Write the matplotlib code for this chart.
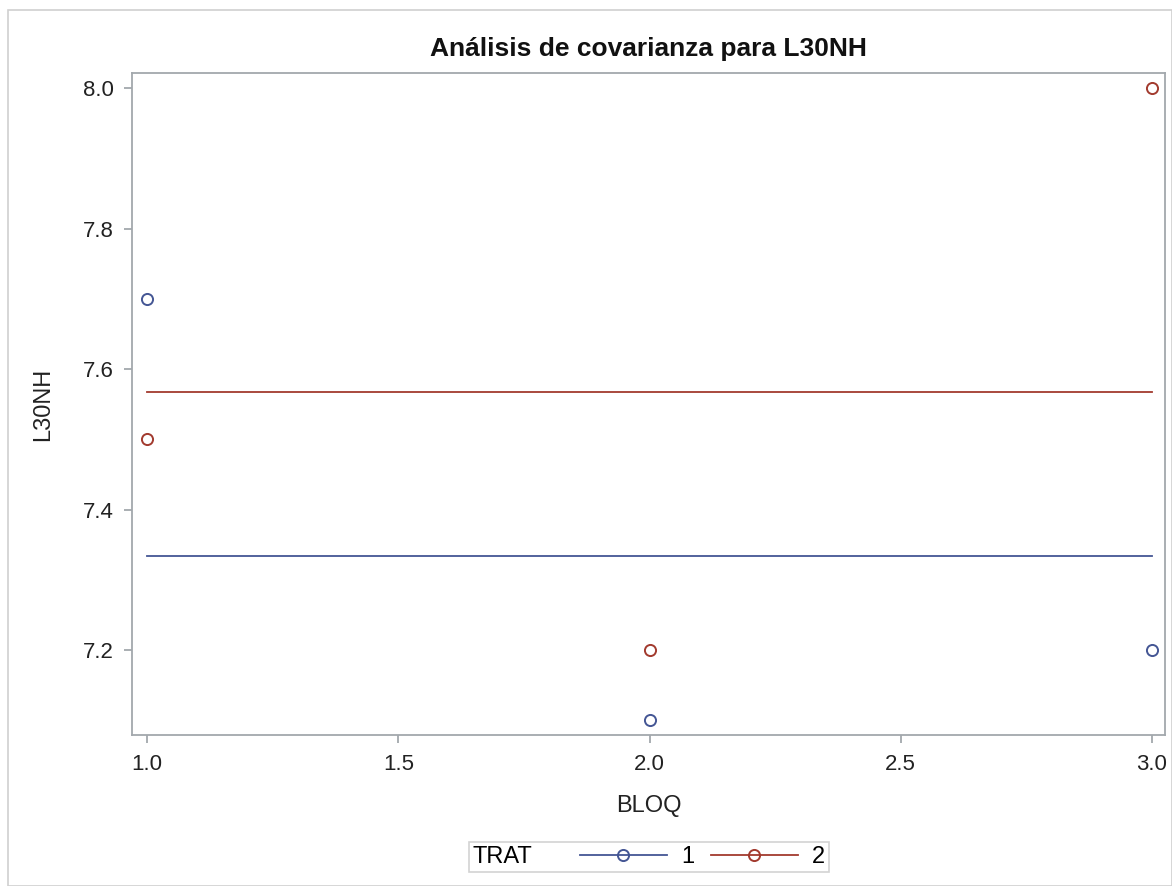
import matplotlib
matplotlib.use("Agg")
import matplotlib.pyplot as plt
from matplotlib.lines import Line2D
from matplotlib.offsetbox import HPacker
from matplotlib.patches import Rectangle

bloq = [1.0, 2.0, 3.0]
trat1 = [7.7, 7.1, 7.2]
trat2 = [7.5, 7.2, 8.0]
trat_labels = ["1", "2"]
xticks = [1.0, 1.5, 2.0, 2.5, 3.0]
yticks = [7.2, 7.4, 7.6, 7.8, 8.0]

blue = "#445694"
red = "#a23a2e"
frame_col = "#a3a8ad"
text_col = "#222222"

plt.rcParams["font.family"] = ["Liberation Sans", "DejaVu Sans"]

fig = plt.figure(figsize=(11.72, 8.86), dpi=100)
W, H = 1172, 886

# outer border of the graph
fig.patches.append(Rectangle((8 / W, 0), (W - 8) / W, (H - 10) / H,
                             transform=fig.transFigure, fill=False,
                             edgecolor="#d0d0d0", linewidth=1.2))

ax = fig.add_axes([132 / W, 1 - 735 / H, (1165 - 132) / W, (735 - 73) / H])

m1 = sum(trat1) / len(trat1)
m2 = sum(trat2) / len(trat2)

ax.plot(bloq, trat1, "o", mfc="none", mec=blue, ms=8, mew=1.4)
ax.plot(bloq, trat2, "o", mfc="none", mec=red, ms=8, mew=1.4)
ax.plot([bloq[0], bloq[-1]], [m1, m1], color=blue, lw=1.3)
ax.plot([bloq[0], bloq[-1]], [m2, m2], color=red, lw=1.3)

ax.set_xlim(0.970, 3.026)
ax.set_ylim(7.079, 8.0214)
ax.set_xticks(xticks)
ax.set_xticklabels(["%.1f" % v for v in xticks])
ax.set_yticks(yticks)
ax.set_yticklabels(["%.1f" % v for v in yticks])
ax.tick_params(colors=frame_col, labelcolor=text_col, labelsize=16,
               length=6, width=1.3)
ax.tick_params(axis="x", pad=8)
ax.tick_params(axis="y", pad=7)
for s in ax.spines.values():
    s.set_color(frame_col)
    s.set_linewidth(1.3)

ax.set_xlabel("BLOQ", fontsize=17, color=text_col, labelpad=14)
ax.set_ylabel("L30NH", fontsize=17, color=text_col, labelpad=21)
ax.set_title("Análisis de covarianza para L30NH", fontsize=19,
             fontweight="bold", color="#111111", pad=12)

handles = [Line2D([], [], color=blue, lw=1.3, marker="o", mfc="none",
                  mec=blue, ms=8, mew=1.4),
           Line2D([], [], color=red, lw=1.3, marker="o", mfc="none",
                  mec=red, ms=8, mew=1.4)]
leg = fig.legend(handles, trat_labels, loc="center",
                 bbox_to_anchor=(649 / W, 1 - 857 / H), ncol=2,
                 title="TRAT", fontsize=17, title_fontsize=17,
                 frameon=True, fancybox=False, handlelength=3.7,
                 handletextpad=0.6, columnspacing=0.7, borderpad=0.15)
leg.get_frame().set_edgecolor("#c8c8c8")
leg.get_frame().set_linewidth(1.2)
# title sits on the same row as the entries
leg._legend_box.__class__ = HPacker
leg._legend_box.sep = 34
leg._legend_box.align = "center"

fig.savefig("out.png", dpi=100)
